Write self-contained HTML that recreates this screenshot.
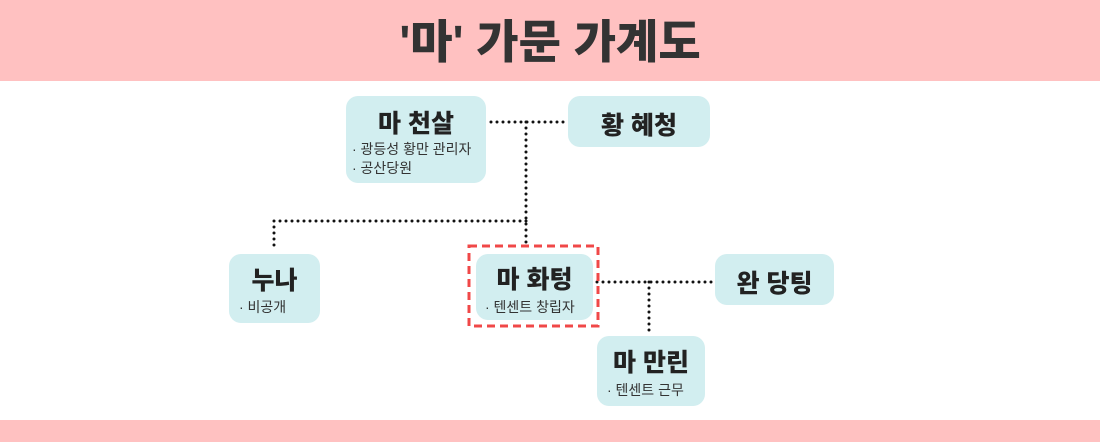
<!DOCTYPE html>
<html><head><meta charset="utf-8"><style>
body{margin:0;width:1100px;height:442px;position:relative;background:#fff;overflow:hidden;font-family:"Liberation Sans","Noto Sans CJK KR",sans-serif;color:#333}
.hd{position:absolute;left:0;top:0;width:1100px;height:81px;background:#FFC1C1;text-align:center;line-height:84px;font-size:46px;font-weight:900;color:#333}
.ft{position:absolute;left:0;top:420px;width:1100px;height:22px;background:#FFC1C1}
.b{position:absolute;background:#D2EEF0;border-radius:12px;box-sizing:border-box}
.t{position:absolute;left:0;right:0;text-align:center;font-size:25px;font-weight:900;color:#222}
.s{position:absolute;font-size:14px;color:#333;white-space:nowrap}
svg{position:absolute;left:0;top:0}
</style></head><body>
<div class="hd">'마' 가문 가계도</div>
<div class="ft"></div>
<svg width="1100" height="442">
<g stroke="#111" stroke-width="3" stroke-linecap="round" stroke-dasharray="0 6" fill="none">
<path d="M491 122H566"/><path d="M526 122V245"/><path d="M526 221H274"/><path d="M274 221V250"/>
<path d="M597 282H712"/><path d="M649 282V333"/>
</g>
<rect x="469" y="246" width="129" height="80" fill="none" stroke="#F04848" stroke-width="3" stroke-dasharray="8 5"/>
</svg>
<div class="b" style="left:346px;top:96px;width:140px;height:87px"><div class="t" style="top:8px">마 천살</div><div class="s" style="left:6px;top:43px">· 광등성 황만 관리자</div><div class="s" style="left:6px;top:62px">· 공산당원</div></div>
<div class="b" style="left:568px;top:96px;width:142px;height:51px"><div class="t" style="top:10px">황 혜청</div></div>
<div class="b" style="left:229px;top:254px;width:91px;height:69px"><div class="t" style="top:7px">누나</div><div class="s" style="left:10px;top:43px">· 비공개</div></div>
<div class="b" style="left:476px;top:254px;width:117px;height:66px"><div class="t" style="top:6px">마 화텅</div><div class="s" style="left:9px;top:43px">· 텐센트 창립자</div></div>
<div class="b" style="left:715px;top:254px;width:119px;height:51px"><div class="t" style="top:10px">완 당팅</div></div>
<div class="b" style="left:597px;top:336px;width:108px;height:70px"><div class="t" style="top:7px">마 만린</div><div class="s" style="left:10px;top:44px">· 텐센트 근무</div></div>
</body></html>
